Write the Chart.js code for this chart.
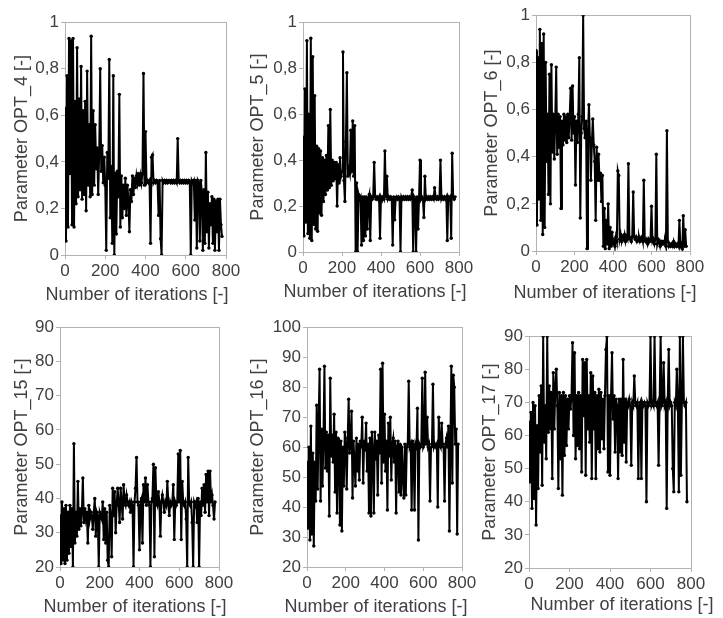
<!DOCTYPE html>
<html>
<head>
<meta charset="utf-8">
<script src="https://cdn.jsdelivr.net/npm/chart.js@4"></script>
<style>
  body { margin: 0; background: #fff; width: 723px; height: 618px; position: relative; overflow: hidden; }
  canvas { position: absolute; }
</style>
</head>
<body>
<canvas id="opt4"></canvas>
<canvas id="opt5"></canvas>
<canvas id="opt6"></canvas>
<canvas id="opt15"></canvas>
<canvas id="opt16"></canvas>
<canvas id="opt17"></canvas>
<script>
// optimiser trace, one value every 5 iterations (0..780)
const iterations = Array.from({ length: 157 }, (_, i) => i * 5)

const opt4 = [
  0.63, 0.06, 0.77, 0.12, 0.93, 0.35, 0.92, 0.13, 0.93, 0.12, 0.66, 0.22, 0.89, 0.25, 0.67, 0.28, 0.81, 0.24, 0.62, 0.26,
  0.66, 0.19, 0.79, 0.30, 0.56, 0.25, 0.94, 0.26, 0.62, 0.30, 0.56, 0.37, 0.46, 0.26, 0.44, 0.80, 0.36, 0.47, 0.31, 0.42,
  0.30, 0.02, 0.44, 0.33, 0.84, 0.16, 0.38, 0.05, 0.77, 0.00, 0.35, 0.09, 0.36, 0.25, 0.69, 0.12, 0.34, 0.16, 0.30, 0.20,
  0.33, 0.17, 0.30, 0.24, 0.10, 0.28, 0.23, 0.34, 0.26, 0.33, 0.29, 0.34, 0.31, 0.35, 0.30, 0.34, 0.31, 0.35, 0.78, 0.30,
  0.53, 0.31, 0.32, 0.31, 0.32, 0.05, 0.42, 0.43, 0.31, 0.32, 0.31, 0.32, 0.31, 0.17, 0.32, 0.07, 0.00, 0.32, 0.31, 0.32,
  0.31, 0.32, 0.31, 0.32, 0.32, 0.31, 0.32, 0.31, 0.32, 0.31, 0.32, 0.31, 0.50, 0.32, 0.31, 0.32, 0.31, 0.32, 0.31, 0.32,
  0.31, 0.32, 0.31, 0.32, 0.31, 0.00, 0.32, 0.31, 0.32, 0.15, 0.32, 0.03, 0.32, 0.31, 0.06, 0.32, 0.27, 0.02, 0.28, 0.05,
  0.44, 0.10, 0.27, 0.03, 0.22, 0.13, 0.25, 0.05, 0.24, 0.02, 0.23, 0.10, 0.24, 0.02, 0.24, 0.13, 0.08
]

const opt5 = [
  0.50, 0.07, 0.71, 0.13, 0.92, 0.08, 0.60, 0.06, 0.93, 0.05, 0.85, 0.12, 0.68, 0.10, 0.46, 0.09, 0.45, 0.17, 0.44, 0.16,
  0.41, 0.22, 0.40, 0.25, 0.42, 0.27, 0.55, 0.28, 0.62, 0.29, 0.40, 0.31, 0.39, 0.32, 0.39, 0.20, 0.38, 0.30, 0.41, 0.33,
  0.35, 0.87, 0.31, 0.22, 0.48, 0.78, 0.33, 0.36, 0.34, 0.53, 0.35, 0.57, 0.33, 0.55, 0.00, 0.30, 0.00, 0.25, 0.23, 0.24,
  0.03, 0.24, 0.05, 0.24, 0.07, 0.24, 0.10, 0.23, 0.25, 0.05, 0.24, 0.23, 0.24, 0.39, 0.24, 0.23, 0.24, 0.23, 0.24, 0.06,
  0.24, 0.23, 0.24, 0.23, 0.44, 0.24, 0.33, 0.23, 0.24, 0.23, 0.24, 0.23, 0.03, 0.24, 0.14, 0.23, 0.24, 0.23, 0.24, 0.23,
  0.00, 0.24, 0.23, 0.24, 0.23, 0.24, 0.23, 0.24, 0.23, 0.24, 0.23, 0.24, 0.27, 0.00, 0.24, 0.23, 0.00, 0.24, 0.10, 0.23,
  0.40, 0.23, 0.24, 0.23, 0.15, 0.33, 0.23, 0.24, 0.23, 0.24, 0.23, 0.24, 0.23, 0.24, 0.23, 0.28, 0.24, 0.23, 0.24, 0.23,
  0.24, 0.40, 0.23, 0.24, 0.23, 0.24, 0.23, 0.24, 0.05, 0.24, 0.23, 0.24, 0.06, 0.43, 0.24, 0.23, 0.24
]

const opt6 = [
  0.85, 0.11, 0.82, 0.22, 0.94, 0.13, 0.88, 0.07, 0.92, 0.10, 0.80, 0.38, 0.58, 0.24, 0.75, 0.20, 0.79, 0.42, 0.58, 0.39,
  0.56, 0.78, 0.41, 0.58, 0.44, 0.57, 0.18, 0.55, 0.45, 0.58, 0.47, 0.57, 0.46, 0.58, 0.48, 0.57, 0.69, 0.47, 0.70, 0.50,
  0.57, 0.28, 0.55, 0.46, 0.58, 0.82, 0.14, 0.50, 0.57, 1.00, 0.52, 0.48, 0.55, 0.01, 0.50, 0.62, 0.48, 0.30, 0.45, 0.56,
  0.45, 0.38, 0.13, 0.44, 0.30, 0.41, 0.30, 0.33, 0.21, 0.32, 0.02, 0.18, 0.01, 0.13, 0.03, 0.20, 0.01, 0.10, 0.02, 0.08,
  0.03, 0.05, 0.02, 0.06, 0.04, 0.34, 0.32, 0.05, 0.07, 0.04, 0.06, 0.05, 0.07, 0.04, 0.06, 0.05, 0.37, 0.06, 0.05, 0.04,
  0.06, 0.25, 0.06, 0.05, 0.06, 0.04, 0.05, 0.06, 0.04, 0.05, 0.06, 0.04, 0.30, 0.05, 0.04, 0.05, 0.03, 0.05, 0.04, 0.05,
  0.19, 0.04, 0.05, 0.03, 0.05, 0.41, 0.03, 0.05, 0.04, 0.02, 0.04, 0.03, 0.04, 0.03, 0.04, 0.02, 0.51, 0.04, 0.02, 0.03,
  0.02, 0.03, 0.02, 0.04, 0.02, 0.03, 0.02, 0.03, 0.02, 0.13, 0.02, 0.03, 0.01, 0.15, 0.02, 0.09, 0.02
]

const opt15 = [
  35, 21, 39, 22, 37, 21, 38, 22, 36, 24, 38, 26, 37, 20, 56, 27, 36, 29, 45, 31,
  37, 32, 36, 46, 33, 37, 34, 36, 27, 38, 34, 36, 35, 31, 36, 40, 29, 36, 35, 20,
  36, 35, 34, 39, 28, 37, 27, 36, 22, 20, 38, 35, 23, 43, 35, 42, 30, 38, 43, 39,
  33, 43, 39, 34, 44, 39, 38, 41, 39, 38, 39, 36, 39, 38, 20, 39, 43, 52, 39, 38,
  25, 39, 40, 27, 44, 39, 46, 38, 44, 39, 38, 20, 39, 40, 50, 23, 49, 39, 38, 42,
  39, 29, 39, 41, 39, 36, 39, 38, 45, 39, 35, 39, 38, 39, 44, 28, 39, 38, 39, 53,
  39, 54, 28, 45, 39, 38, 39, 34, 20, 52, 39, 38, 39, 33, 20, 39, 38, 39, 33, 40,
  20, 39, 35, 43, 38, 44, 36, 47, 39, 48, 35, 48, 39, 41, 38, 34, 39
]

const opt16 = [
  55, 33, 60, 29, 67, 31, 58, 27, 55, 42, 74, 46, 68, 86, 42, 66, 47, 64, 87, 53,
  65, 52, 64, 37, 83, 57, 64, 55, 71, 45, 65, 38, 63, 58, 34, 62, 32, 60, 47, 65,
  61, 46, 63, 76, 58, 62, 72, 43, 62, 55, 47, 63, 52, 61, 49, 62, 60, 70, 48, 62,
  59, 68, 52, 61, 38, 63, 37, 65, 59, 38, 65, 56, 62, 44, 64, 58, 86, 48, 88, 55,
  71, 52, 62, 39, 68, 57, 70, 49, 61, 63, 55, 62, 38, 60, 62, 45, 61, 44, 60, 50,
  43, 61, 44, 60, 61, 82, 60, 61, 39, 62, 60, 39, 61, 60, 73, 29, 61, 60, 61, 83,
  60, 61, 85, 61, 70, 60, 61, 42, 60, 61, 81, 60, 61, 60, 61, 40, 70, 61, 60, 68,
  61, 60, 42, 61, 63, 60, 67, 32, 61, 87, 48, 84, 80, 61, 66, 31, 61
]

const opt17 = [
  64, 46, 67, 38, 70, 41, 69, 33, 63, 44, 72, 55, 75, 45, 90, 58, 69, 53, 90, 61,
  75, 62, 73, 47, 79, 62, 75, 80, 69, 44, 73, 53, 72, 42, 73, 54, 72, 57, 71, 62,
  72, 68, 72, 88, 60, 85, 53, 72, 57, 73, 56, 72, 49, 83, 66, 82, 48, 83, 62, 72,
  58, 79, 47, 78, 62, 73, 47, 72, 56, 74, 55, 73, 59, 71, 56, 72, 86, 90, 49, 72,
  48, 72, 85, 65, 72, 55, 71, 69, 47, 71, 55, 71, 54, 83, 58, 71, 52, 70, 69, 71,
  69, 51, 70, 69, 78, 70, 69, 70, 47, 69, 70, 47, 70, 69, 70, 69, 40, 70, 69, 70,
  90, 69, 70, 69, 90, 70, 69, 70, 51, 70, 90, 69, 70, 82, 69, 70, 38, 70, 86, 69,
  70, 69, 50, 43, 70, 69, 80, 70, 43, 90, 48, 70, 90, 70, 69, 70, 40
]

const xTicks = [0, 200, 400, 600, 800]
const unitTicks = [0, 0.2, 0.4, 0.6, 0.8, 1]
const ticks20to90 = [20, 30, 40, 50, 60, 70, 80, 90]
const ticks20to100 = [20, 30, 40, 50, 60, 70, 80, 90, 100]
const xLabel = 'Number of iterations [-]'

// plot box (page px) and where each axis title sits
const panels = [
  { id: 'opt4', label: 'Parameter OPT_4 [-]', values: opt4, yTicks: unitTicks, l: 65, t: 22, r: 226, b: 255, titleX: 22, xTitleX: 137, xTitleY: 295 },
  { id: 'opt5', label: 'Parameter OPT_5 [-]', values: opt5, yTicks: unitTicks, l: 303, t: 22, r: 459, b: 252, titleX: 258, xTitleX: 375, xTitleY: 292 },
  { id: 'opt6', label: 'Parameter OPT_6 [-]', values: opt6, yTicks: unitTicks, l: 536, t: 15, r: 690, b: 251, titleX: 492, xTitleX: 605, xTitleY: 293 },
  { id: 'opt15', label: 'Parameter OPT_15 [-]', values: opt15, yTicks: ticks20to90, l: 60, t: 327, r: 219, b: 567, titleX: 22, xTitleX: 135, xTitleY: 607 },
  { id: 'opt16', label: 'Parameter OPT_16 [-]', values: opt16, yTicks: ticks20to100, l: 307, t: 327, r: 462, b: 567, titleX: 258, xTitleX: 376, xTitleY: 607 },
  { id: 'opt17', label: 'Parameter OPT_17 [-]', values: opt17, yTicks: ticks20to90, l: 529, t: 336, r: 691, b: 568, titleX: 490, xTitleX: 622, xTitleY: 605 },
]

const textColor = '#404040'
const axisColor = '#b3b3b3'
const fontFamily = "Arial, 'Liberation Sans', sans-serif"
const titleFont = { family: fontFamily, size: 18, lineHeight: 1.2 }
const tickFont = { family: fontFamily, size: 17 }
const halfTitle = titleFont.size * titleFont.lineHeight / 2
const padTop = 12
const padRight = 18

// light grey box round the plot area
const frame = {
  id: 'frame',
  beforeDatasetsDraw(chart) {
    const { ctx, chartArea: a } = chart
    ctx.save()
    ctx.strokeStyle = axisColor
    ctx.lineWidth = 1
    ctx.strokeRect(Math.round(a.left) + 0.5, Math.round(a.top) + 0.5, Math.round(a.right - a.left), Math.round(a.bottom - a.top))
    ctx.restore()
  }
}

// x title drawn by hand: the built-in one gets squeezed to the plot width
const xTitle = {
  id: 'xTitle',
  afterDraw(chart, args, opts) {
    const { ctx } = chart
    ctx.save()
    ctx.font = titleFont.size + 'px ' + fontFamily
    ctx.fillStyle = textColor
    ctx.textAlign = 'center'
    ctx.textBaseline = 'middle'
    ctx.fillText(opts.text, opts.x, opts.y)
    ctx.restore()
  }
}

const decimalComma = v => String(+v.toFixed(1)).replace('.', ',')

panels.forEach(p => {
  const left = Math.round(p.titleX - halfTitle)
  const top = p.t - padTop
  const yWidth = p.l - left
  const xHeight = Math.round(p.xTitleY - p.b + halfTitle)
  const width = Math.max(p.r + padRight, p.xTitleX + 100) - left
  const height = p.b - top + xHeight

  const canvas = document.getElementById(p.id)
  canvas.width = width
  canvas.height = height
  canvas.style.left = left + 'px'
  canvas.style.top = top + 'px'
  canvas.style.width = width + 'px'
  canvas.style.height = height + 'px'

  const yMin = p.yTicks[0]
  const yMax = p.yTicks[p.yTicks.length - 1]

  new Chart(canvas.getContext('2d'), {
    type: 'line',
    data: {
      datasets: [{
        data: iterations.map((x, i) => ({ x: x, y: p.values[i] })),
        borderColor: '#000',
        backgroundColor: '#000',
        borderWidth: 2,
        pointRadius: 1.7,
        pointHoverRadius: 1.7,
        pointBorderWidth: 0,
        tension: 0,
      }]
    },
    options: {
      responsive: false,
      animation: false,
      events: [],
      layout: { padding: { top: padTop, right: width - (p.r - left), left: 0, bottom: 0 } },
      plugins: {
        legend: { display: false },
        tooltip: { enabled: false },
        xTitle: { text: xLabel, x: p.xTitleX - left, y: p.xTitleY - top }
      },
      scales: {
        x: {
          type: 'linear',
          min: 0,
          max: 800,
          afterBuildTicks: s => { s.ticks = xTicks.map(v => ({ value: v })) },
          afterFit: s => { s.height = xHeight },
          grid: { drawOnChartArea: false, drawTicks: true, tickLength: 4, color: axisColor },
          border: { display: false },
          ticks: { color: textColor, font: tickFont, padding: 2, maxRotation: 0 }
        },
        y: {
          type: 'linear',
          min: yMin,
          max: yMax,
          afterBuildTicks: s => { s.ticks = p.yTicks.map(v => ({ value: v })) },
          afterFit: s => { s.width = yWidth },
          grid: { drawOnChartArea: false, drawTicks: true, tickLength: 4, color: axisColor },
          border: { display: false },
          ticks: {
            color: textColor,
            font: tickFont,
            padding: 2,
            callback: v => yMax === 1 ? decimalComma(v) : String(v)
          },
          title: { display: true, text: p.label, color: textColor, font: titleFont, padding: 0 }
        }
      }
    },
    plugins: [frame, xTitle]
  })
})
</script>
</body>
</html>
